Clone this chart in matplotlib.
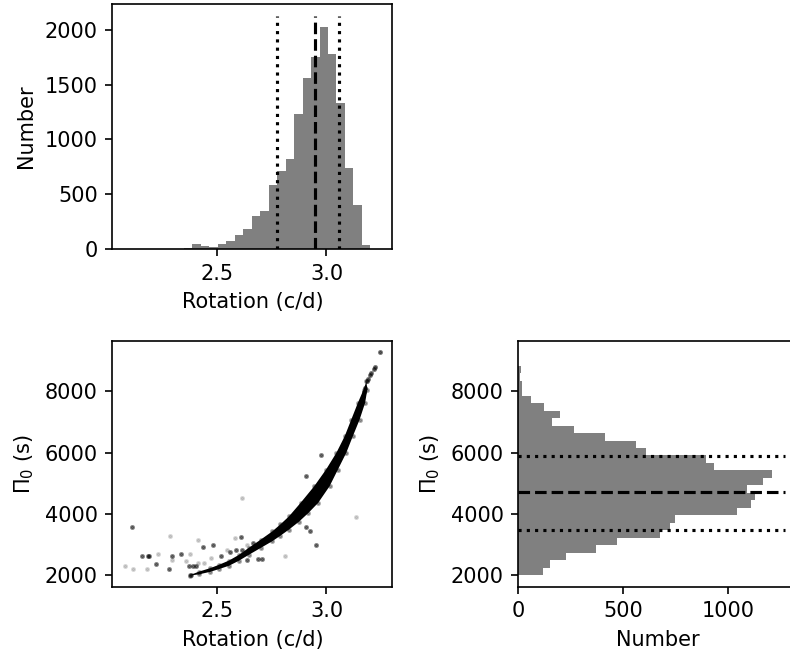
import numpy as np
import matplotlib.pyplot as plt

# rotation histogram (counts per bin, bins from 2.35 to 3.20 c/d)
rot_edges = np.linspace(2.35, 3.20, 23)
rot_counts = [9, 45, 30, 21, 45, 70, 130, 180, 300, 345, 585, 715, 820, 1235,
              1565, 1755, 2030, 1785, 1330, 738, 405, 36]
rot_median, rot_lo, rot_hi = 2.949, 2.774, 3.055

# period spacing histogram (counts per bin, bins from 2000 to 8840 s)
pi0_edges = np.linspace(2000, 8840, 29)
pi0_counts = [117, 152, 225, 369, 470, 676, 725, 745, 1044, 1108, 1127, 1092,
              1168, 1211, 935, 894, 608, 563, 413, 264, 161, 201, 123, 59,
              19, 19, 9, 11]
pi0_median, pi0_lo, pi0_hi = 4708, 3481, 5905

# outline of the dense band of samples: upper-left edge and lower-right edge
edge_hi_rot = [2.380, 2.420, 2.470, 2.510, 2.556, 2.600, 2.647, 2.700, 2.753,
               2.790, 2.829, 2.882, 2.944, 2.998, 3.045, 3.083, 3.113, 3.143,
               3.169, 3.182]
edge_hi_pi0 = [2010, 2120, 2230, 2340, 2480, 2660, 2900, 3160, 3430,
               3660, 3920, 4362, 4904, 5449, 5994, 6536, 7081, 7626,
               8060, 8330]
edge_lo_rot = [2.380, 2.420, 2.470, 2.510, 2.556, 2.600, 2.647, 2.700, 2.753,
               2.790, 2.829, 2.875, 2.918, 2.962, 3.014, 3.052, 3.090, 3.120,
               3.151, 3.176, 3.186]
edge_lo_pi0 = [1990, 2030, 2110, 2200, 2310, 2470, 2670, 2890, 3110,
               3290, 3490, 3750, 4036, 4362, 4904, 5449, 5994, 6536,
               7081, 7626, 8060]

# sparse samples at the top of the band
tail_rot = [3.170, 3.176, 3.185, 3.190, 3.200, 3.205, 3.215, 3.220, 3.242]
tail_pi0 = [7980, 8100, 8330, 8420, 8520, 8604, 8735, 8800, 9290]

# scattered samples away from the band
faint_rot = [2.082, 2.120, 2.180, 2.233, 2.288, 2.298, 2.359, 2.379, 2.415,
             2.415, 2.444, 2.473, 2.548, 2.583, 2.616, 2.639, 2.809, 3.136]
faint_pi0 = [2316, 2200, 2218, 2708, 3273, 2490, 2458, 2708, 3165,
             2405, 2405, 2567, 2839, 3220, 4513, 3002, 2620, 3905]
dark_rot = [2.114, 2.159, 2.185, 2.192, 2.225, 2.280, 2.298, 2.339, 2.374,
            2.390, 2.405, 2.382, 2.435, 2.485, 2.518, 2.559, 2.586, 2.609,
            2.614, 2.639, 2.665, 2.688, 2.707, 2.905, 2.923, 2.907, 2.953, 2.973]
dark_pi0 = [3566, 2620, 2620, 2620, 2382, 2218, 2620, 2708, 2316,
            2316, 2316, 1995, 2927, 3002, 2643, 2751, 2839, 3253,
            2839, 2490, 3057, 2535, 2535, 3566, 3449, 5253, 3002, 5929]

fig = plt.figure(figsize=(790 / 150, 659 / 150), dpi=150)
ax_sc = fig.add_axes([0.1422, 0.1097, 0.3544, 0.3733])
ax_top = fig.add_axes([0.1422, 0.6222, 0.3544, 0.3718], sharex=ax_sc)
ax_r = fig.add_axes([0.6561, 0.1097, 0.3544, 0.3733], sharey=ax_sc)

# scatter panel
outline_rot = np.concatenate([edge_hi_rot, edge_lo_rot[::-1]])
outline_pi0 = np.concatenate([edge_hi_pi0, edge_lo_pi0[::-1]])
ax_sc.fill(outline_rot, outline_pi0, color='k', lw=0)
ax_sc.scatter(edge_hi_rot, edge_hi_pi0, s=2, c='k', alpha=0.3)
ax_sc.scatter(edge_lo_rot, edge_lo_pi0, s=2, c='k', alpha=0.3)
ax_sc.scatter(tail_rot, tail_pi0, s=2, c='k', alpha=0.5)
ax_sc.scatter(faint_rot, faint_pi0, s=2, c='k', alpha=0.15)
ax_sc.scatter(dark_rot, dark_pi0, s=2, c='k', alpha=0.45)
ax_sc.set_xlabel('Rotation (c/d)')
ax_sc.set_ylabel(r'$\Pi_0$ (s)')

# rotation histogram
rot_centers = 0.5 * (rot_edges[1:] + rot_edges[:-1])
ax_top.hist(rot_centers, bins=rot_edges, weights=rot_counts,
            histtype='stepfilled', color='gray')
top = 1.05 * max(rot_counts)
ax_top.vlines(rot_median, 0, top, colors='k', linestyles='--', lw=1.5)
ax_top.vlines([rot_lo, rot_hi], 0, top, colors='k', linestyles=':', lw=1.5)
ax_top.set_xlabel('Rotation (c/d)')
ax_top.set_ylabel('Number')

# Pi0 histogram
pi0_centers = 0.5 * (pi0_edges[1:] + pi0_edges[:-1])
ax_r.hist(pi0_centers, bins=pi0_edges, weights=pi0_counts,
          orientation='horizontal', histtype='stepfilled', color='gray')
right = 1.05 * max(pi0_counts)
ax_r.hlines(pi0_median, 0, right, colors='k', linestyles='--', lw=1.5)
ax_r.hlines([pi0_lo, pi0_hi], 0, right, colors='k', linestyles=':', lw=1.5)
ax_r.set_xlabel('Number')
ax_r.set_ylabel(r'$\Pi_0$ (s)')

fig.savefig('out.png', dpi=150)
